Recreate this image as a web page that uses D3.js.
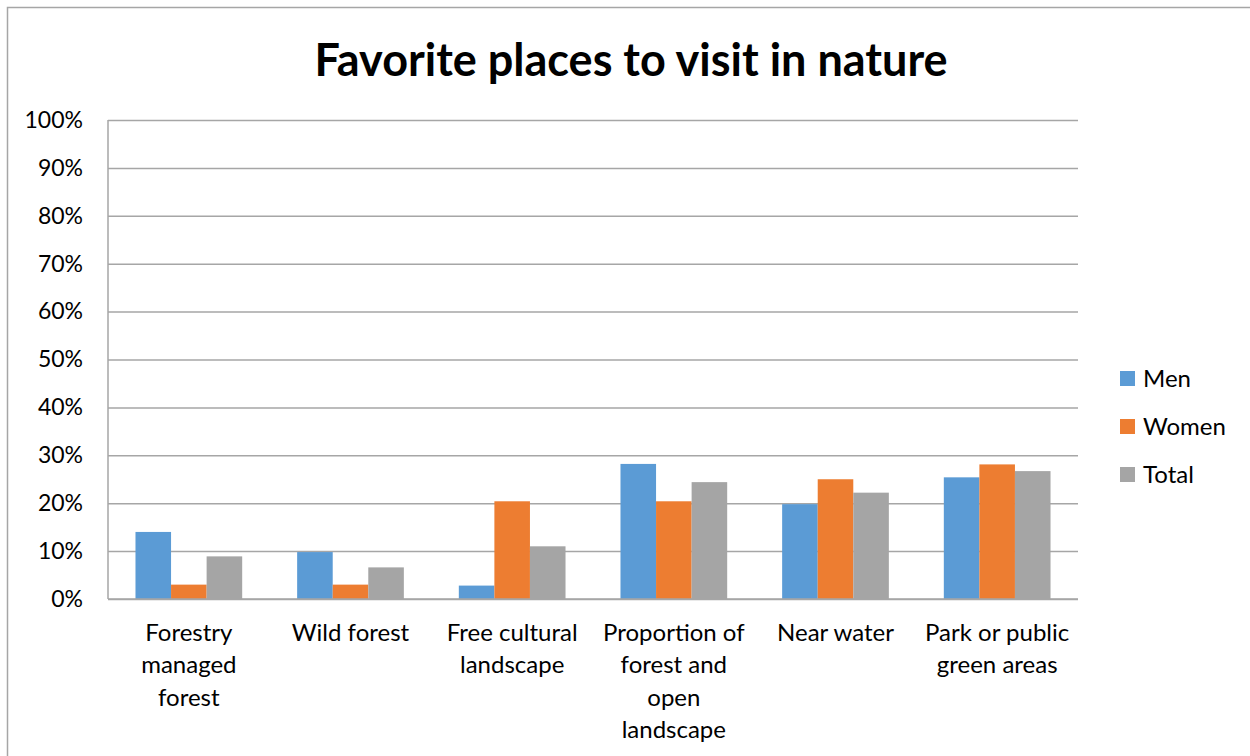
<!doctype html>
<html>
  <head>
    <meta charset="utf-8">
    <script src="https://cdn.jsdelivr.net/npm/d3@7"></script>
    <style>
      body { margin: 0; background: white; }
      svg { font-family: Lato, "Open Sans", sans-serif; }
      .tick text { fill: #000; }
    </style>
  </head>
  <body>
    <svg class="chart"></svg>
    <script>
      // data
      const categories = [
        ["Forestry", "managed", "forest"],
        ["Wild forest"],
        ["Free cultural", "landscape"],
        ["Proportion of", "forest and", "open", "landscape"],
        ["Near water"],
        ["Park or public", "green areas"]
      ]
      const seriesNames = ["Men", "Women", "Total"]
      const men = [14.0, 9.8, 2.8, 28.2, 19.8, 25.4]
      const women = [3.0, 3.0, 20.4, 20.4, 25.0, 28.1]
      const total = [8.9, 6.6, 11.0, 24.4, 22.2, 26.7]
      const yTicks = [0, 10, 20, 30, 40, 50, 60, 70, 80, 90, 100]
      const colors = ["#5b9bd5", "#ed7d31", "#a5a5a5"]

      const W = 1250, H = 756
      const margin = { top: 120, left: 108, right: 172, bottom: 157 }
      const width = W - margin.left - margin.right,
            height = H - margin.top - margin.bottom

      const rows = categories.map((c, i) => ({ i: i, vals: [men[i], women[i], total[i]] }))

      const svg = d3.select(".chart")
                    .attr("width", W)
                    .attr("height", H)

      // outer chart border
      svg.append("rect")
        .attr("x", 7.5).attr("y", 7.5)
        .attr("width", W).attr("height", H)
        .attr("fill", "white")
        .attr("stroke", "#a6a6a6")
        .attr("stroke-width", 1.5)

      svg.append("text")
        .attr("x", 631)
        .attr("y", 76)
        .attr("text-anchor", "middle")
        .attr("font-size", 45)
        .attr("font-weight", "bold")
        .text("Favorite places to visit in nature")

      const x0 = d3.scaleBand()
                   .domain(d3.range(categories.length))
                   .range([0, width])
                   .paddingInner(0.34)
                   .paddingOuter(0.17)

      const x1 = d3.scaleBand()
                   .domain(d3.range(seriesNames.length))
                   .range([0, x0.bandwidth()])

      const y = d3.scaleLinear()
                  .domain([0, 100])
                  .range([height, 0])

      const chart = svg.append("g")
                       .attr("transform", "translate(" + margin.left + "," + margin.top + ")")

      // gridlines + y labels
      const yAxis = d3.axisLeft(y)
                      .tickValues(yTicks)
                      .tickFormat(d => d + "%")
                      .tickSize(-width)
                      .tickPadding(25)

      chart.append("g")
          .call(yAxis)
          .call(g => g.select(".domain").remove())
          .call(g => g.selectAll(".tick line").attr("stroke", "#a6a6a6").attr("stroke-width", 1.5))
          .call(g => g.selectAll(".tick text").attr("font-size", 23).attr("font-family", "Lato"))

      // left axis line
      chart.append("line")
        .attr("x1", 0).attr("x2", 0)
        .attr("y1", 0).attr("y2", height)
        .attr("stroke", "#a6a6a6")
        .attr("stroke-width", 1.5)

      chart.selectAll(".group")
        .data(rows)
        .enter().append("g")
          .attr("class", "group")
          .attr("transform", d => "translate(" + x0(d.i) + ",0)")
        .selectAll("rect")
        .data(d => d.vals)
        .enter().append("rect")
          .attr("x", (d, j) => x1(j))
          .attr("width", x1.bandwidth())
          .attr("y", d => y(d))
          .attr("height", d => height - y(d))
          .attr("fill", (d, j) => colors[j])

      // x axis line on top of bars
      chart.append("line")
        .attr("x1", 0).attr("x2", width)
        .attr("y1", height).attr("y2", height)
        .attr("stroke", "#a6a6a6")
        .attr("stroke-width", 1.5)

      // category labels
      const catLabels = chart.selectAll(".cat")
        .data(categories)
        .enter().append("text")
          .attr("class", "cat")
          .attr("text-anchor", "middle")
          .attr("font-size", 24)
          .attr("transform", (d, i) => "translate(" + (x0(i) + x0.bandwidth() / 2) + "," + (height + 42) + ")")

      catLabels.selectAll("tspan")
        .data(d => d)
        .enter().append("tspan")
          .attr("x", 0)
          .attr("y", (d, k) => k * 32.3)
          .text(d => d)

      // legend
      const legend = svg.append("g")
                        .attr("transform", "translate(1120,378)")

      seriesNames.forEach((s, j) => {
        legend.append("rect")
          .attr("x", 0)
          .attr("y", j * 48 - 7)
          .attr("width", 15)
          .attr("height", 15)
          .attr("fill", colors[j])
        legend.append("text")
          .attr("x", 23)
          .attr("y", j * 48 + 9)
          .attr("font-size", 24)
          .text(s)
      })
    </script>
  </body>
</html>
